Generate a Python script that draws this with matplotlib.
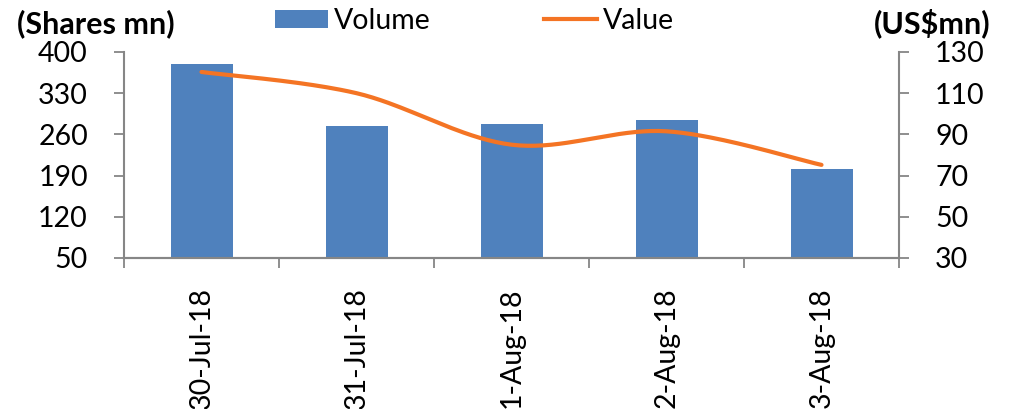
import numpy as np
import matplotlib
matplotlib.use("Agg")
import matplotlib.pyplot as plt
from matplotlib.patches import Patch
from matplotlib.lines import Line2D

plt.rcParams['font.family'] = ['Lato', 'DejaVu Sans']

dates = ["30-Jul-18", "31-Jul-18", "1-Aug-18", "2-Aug-18", "3-Aug-18"]
volume = [380, 274, 278, 284, 201]      # shares mn
value = [120.3, 110, 85, 91.5, 75.2]    # US$ mn

left_ticks = [50, 120, 190, 260, 330, 400]
right_ticks = [30, 50, 70, 90, 110, 130]

BAR_COLOR = "#4F81BD"
LINE_COLOR = "#F47424"
AXIS_COLOR = "#868686"
FS = 20.5
TITLE_FS = 22


def smooth(xs, ys, n=40):
    """Catmull-Rom style smoothing through every point (Bezier form)."""
    P = np.column_stack([xs, ys]).astype(float)
    P = np.vstack([P[0], P, P[-1]])
    out = []
    for i in range(1, len(P) - 2):
        p0, p1, p2, p3 = P[i - 1], P[i], P[i + 1], P[i + 2]
        c1 = p1 + (p2 - p0) / 6.0
        c2 = p2 - (p3 - p1) / 6.0
        t = np.linspace(0, 1, n)[:, None]
        seg = ((1 - t) ** 3) * p1 + 3 * ((1 - t) ** 2) * t * c1 + 3 * (1 - t) * t ** 2 * c2 + t ** 3 * p2
        out.append(seg if i == 1 else seg[1:])
    s = np.vstack(out)
    return s[:, 0], s[:, 1]


fig = plt.figure(figsize=(10.10, 4.09), dpi=100)
ax = fig.add_axes([0.1228, 0.3692, 0.7673, 0.5037])
ax2 = ax.twinx()

x = np.arange(len(dates))
ax.bar(x, volume, width=0.4, color=BAR_COLOR, zorder=2)

sx, sy = smooth(x, value)
ax2.plot(sx, sy, color=LINE_COLOR, lw=3, solid_capstyle='round', zorder=3)

ax.set_xlim(-0.5, len(dates) - 0.5)
ax.set_ylim(left_ticks[0], left_ticks[-1])
ax2.set_ylim(right_ticks[0], right_ticks[-1])
ax.set_yticks(left_ticks)
ax2.set_yticks(right_ticks)
ax.tick_params(axis='y', labelsize=FS, length=7, width=1.3, color=AXIS_COLOR, pad=19)
ax2.tick_params(axis='y', labelsize=FS, length=7, width=1.3, color=AXIS_COLOR, pad=19)

# category boundaries get the tick marks, centres get the labels
ax.set_xticks(np.arange(len(dates) + 1) - 0.5)
ax.set_xticklabels([])
ax.tick_params(axis='x', which='major', length=7, width=1.3, color=AXIS_COLOR)
ax.set_xticks(x, minor=True)
ax.set_xticklabels(dates, minor=True, rotation=90, fontsize=FS, va='top')
ax.tick_params(axis='x', which='minor', length=0, pad=21)

for a in (ax, ax2):
    a.spines['top'].set_visible(False)
    for s in ('left', 'right', 'bottom'):
        a.spines[s].set_color(AXIS_COLOR)
        a.spines[s].set_linewidth(1.5)
ax.spines['right'].set_visible(False)
ax2.spines['left'].set_visible(False)

fig.text(0.017, 0.918, "(Shares mn)", fontsize=TITLE_FS, fontweight='bold', ha='left', va='baseline')
fig.text(0.981, 0.918, "(US$mn)", fontsize=TITLE_FS, fontweight='bold', ha='right', va='baseline')

handles = [Patch(facecolor=BAR_COLOR, edgecolor='none'),
           Line2D([], [], color=LINE_COLOR, lw=3)]
fig.legend(handles, ["Volume", "Value"], loc='center', bbox_to_anchor=(0.47, 0.949),
           ncol=2, frameon=False, fontsize=FS, handlelength=1.85, handleheight=0.62,
           handletextpad=0.2, columnspacing=4.0, borderpad=0, borderaxespad=0)

fig.savefig("out.png", dpi=100)
